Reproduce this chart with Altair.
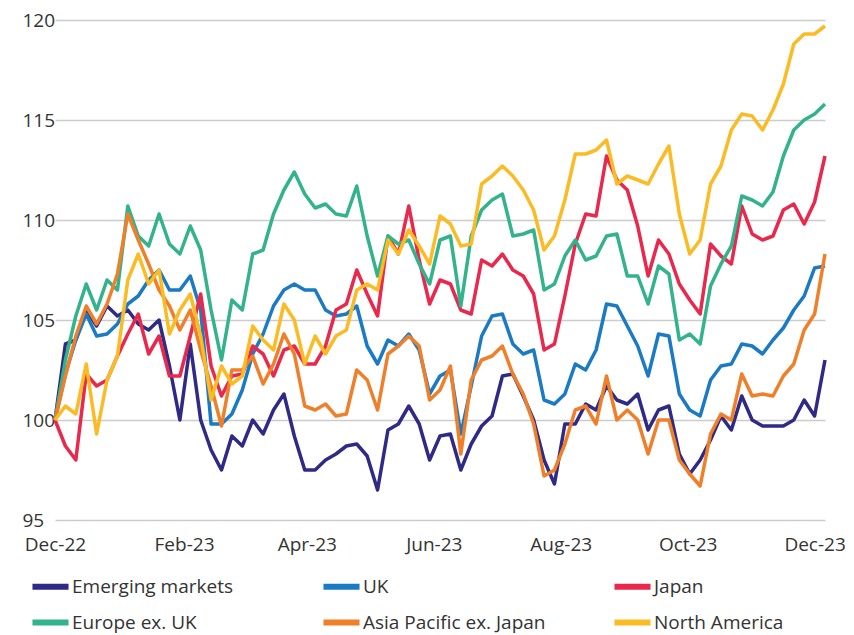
import altair as alt
import pandas as pd

series_names = ["Emerging markets", "UK", "Japan", "Europe ex. UK",
                "Asia Pacific ex. Japan", "North America"]
series_colors = ["#2e2a86", "#1a7bc4", "#e8284c", "#33b38c", "#f07f2a", "#fbbb24"]

emerging = [100, 103.8, 104, 105.5, 104.7, 105.7, 105.2, 105.5, 104.8, 104.5, 105, 102.7, 100.0,
            103.8, 100, 98.5, 97.5, 99.2, 98.7, 100, 99.3, 100.5, 101.3, 99.2, 97.5, 97.5,
            98, 98.3, 98.7, 98.8, 98.2, 96.5, 99.5, 99.8, 100.7, 99.8, 98, 99.2,
            99.3, 97.5, 98.8, 99.7, 100.2, 102.2, 102.3, 101.2, 100, 98, 96.8, 99.8, 99.8,
            100.8, 100.5, 101.7, 101, 100.8, 101.3, 99.5, 100.5, 100.7, 98.3, 97.3, 98,
            99, 100.2, 99.5, 101.2, 100, 99.7, 99.7, 99.7, 100, 101, 100.2, 103]
uk = [100, 102.3, 104, 105.3, 104.2, 104.3, 104.8, 105.8, 106.2, 107, 107.5, 106.5, 106.5,
      107.2, 105.5, 99.8, 99.8, 100.3, 101.5, 103.3, 104.3, 105.7, 106.5, 106.8, 106.5, 106.5,
      105.5, 105.2, 105.3, 105.7, 103.7, 102.8, 104, 103.7, 104.3, 103.5, 101.3, 102.2,
      102.5, 99.3, 101.7, 104.2, 105.2, 105.3, 103.8, 103.3, 103.5, 101, 100.8, 101.3, 102.8,
      102.5, 103.5, 105.8, 105.7, 104.7, 103.7, 102.2, 104.3, 104.2, 101.3, 100.5, 100.2,
      102, 102.7, 102.8, 103.8, 103.7, 103.3, 104, 104.6, 105.5, 106.2, 107.6, 107.7]
japan = [100, 98.7, 98, 102.3, 101.7, 102, 103.2, 104.3, 105.3, 103.3, 104.2, 102.2, 102.2,
         104.2, 106.3, 102.7, 101.2, 102.2, 102.3, 103.7, 103.3, 102.2, 103.5, 103.7, 102.8, 102.8,
         103.7, 105.5, 105.8, 107.5, 106.3, 105.2, 109.2, 108.3, 110.7, 108, 105.8, 107,
         106.8, 105.5, 105.3, 108, 107.7, 108.3, 107.5, 107.2, 106.3, 103.5, 103.8, 106.2, 108.8,
         110.3, 110.2, 113.2, 112, 111.5, 109.7, 107.2, 109, 108.3, 106.8, 106, 105.3,
         108.8, 108.2, 107.8, 110.7, 109.3, 109, 109.2, 110.5, 110.8, 109.8, 110.9, 113.2]
europe = [100, 103, 105.2, 106.8, 105.5, 107, 106.5, 110.7, 109.2, 108.7, 110.3, 108.8, 108.3,
          109.7, 108.5, 105.5, 103, 106, 105.5, 108.3, 108.5, 110.3, 111.5, 112.4, 111.3, 110.6,
          110.8, 110.3, 110.2, 111.7, 109.2, 107.2, 109.2, 108.8, 109, 107.8, 106.8, 109,
          109.2, 105.7, 109.2, 110.5, 111, 111.3, 109.2, 109.3, 109.5, 106.5, 106.8, 108.2, 109,
          108, 108.2, 109.2, 109.3, 107.2, 107.2, 105.8, 107.7, 107.3, 104, 104.3, 103.8,
          106.7, 107.8, 108.7, 111.2, 111, 110.7, 111.4, 113.2, 114.5, 115, 115.3, 115.8]
asia_pacific = [100, 102.2, 104.2, 105.7, 104.8, 105.8, 107.3, 110.3, 109, 107.8, 106.5, 105.7, 104.5,
                105.5, 103.5, 101.7, 99.7, 102.5, 102.5, 103.2, 101.8, 102.8, 104.3, 103.3, 100.7, 100.5,
                100.8, 100.2, 100.3, 102.5, 102, 100.5, 103.3, 103.7, 104.2, 103.7, 101, 101.5,
                102.7, 98.3, 102, 103, 103.2, 103.7, 102.3, 101.3, 99.8, 97.2, 97.5, 98.8, 100.5,
                100.7, 99.8, 102.2, 100, 100.5, 100, 98.3, 100, 100, 98, 97.3, 96.7,
                99.3, 100.3, 100, 102.3, 101.2, 101.3, 101.2, 102.2, 102.8, 104.5, 105.3, 108.3]
north_america = [100, 100.7, 100.3, 102.8, 99.3, 102, 103.2, 107, 108.3, 106.8, 107.5, 104.3, 105.5,
                 106.3, 104.2, 101, 102.7, 101.8, 102.2, 104.7, 104, 103.5, 105.8, 105, 102.8, 104.2,
                 103.3, 104.2, 104.5, 106.5, 106.8, 106.5, 109, 108.3, 109.5, 108.7, 107.8, 110.2,
                 109.8, 108.7, 108.8, 111.8, 112.2, 112.7, 112.2, 111.5, 110.5, 108.5, 109.2, 111, 113.3,
                 113.3, 113.5, 114, 111.8, 112.2, 112, 111.8, 112.8, 113.7, 110.3, 108.3, 109,
                 111.8, 112.7, 114.5, 115.3, 115.2, 114.5, 115.5, 116.8, 118.8, 119.3, 119.3, 119.7]

x_tick_labels = ["Dec-22", "Feb-23", "Apr-23", "Jun-23", "Aug-23", "Oct-23", "Dec-23"]
y_ticks = [95, 100, 105, 110, 115, 120]

dates = pd.date_range("2022-12-01", periods=len(emerging), freq="5D").strftime("%Y-%m-%dT00:00:00")

all_series = [emerging, uk, japan, europe, asia_pacific, north_america]
rows = []
for k, (name, vals) in enumerate(zip(series_names, all_series)):
    for d, v in zip(dates, vals):
        rows.append({"date": d, "value": v, "series": name, "k": k})
df = pd.DataFrame(rows)

tick_values = [alt.DateTime(year=2022, month=12, date=1)] + [
    alt.DateTime(year=2023, month=m, date=1) for m in (2, 4, 6, 8, 10, 12)]

FONT = "Open Sans"
TXT = "#333333"

chart = alt.Chart(df).mark_line(strokeWidth=3.5, strokeJoin="round").encode(
    x=alt.X("date:T",
            scale=alt.Scale(domain=[alt.DateTime(year=2022, month=12, date=1),
                                    alt.DateTime(year=2023, month=12, date=6)]),
            axis=alt.Axis(values=tick_values, format="%b-%y", title=None, grid=False,
                          domain=False, ticks=False, labelPadding=15, labelFontSize=19,
                          labelFlush=False, labelColor=TXT, labelFont=FONT)),
    y=alt.Y("value:Q", scale=alt.Scale(domain=[95, 120], nice=False, zero=False),
            axis=alt.Axis(values=y_ticks, title=None, domain=False, ticks=False,
                          labelAlign="left", labelPadding=33, labelFontSize=19,
                          labelColor=TXT, labelFont=FONT, gridColor="#cccccc",
                          gridWidth=1.5)),
    color=alt.Color("series:N",
                    scale=alt.Scale(domain=series_names, range=series_colors),
                    legend=alt.Legend(title=None, orient="none", legendX=-26, legendY=545,
                                      direction="horizontal", columns=3, gridAlign="all",
                                      columnPadding=56, rowPadding=2,
                                      symbolType="stroke", symbolStrokeWidth=6,
                                      symbolSize=1300, labelOffset=0, labelFontSize=19,
                                      labelFont=FONT, labelColor=TXT, labelLimit=400)),
    order=alt.Order("k:Q"),
    detail="k:N",
).properties(
    width=770, height=500,
    autosize=alt.AutoSizeParams(type="none"),
    padding={"left": 47, "top": 12, "right": 20, "bottom": 115},
).configure_view(stroke=None)

chart.save("out.html", embed_options={"renderer": "svg", "actions": False})
